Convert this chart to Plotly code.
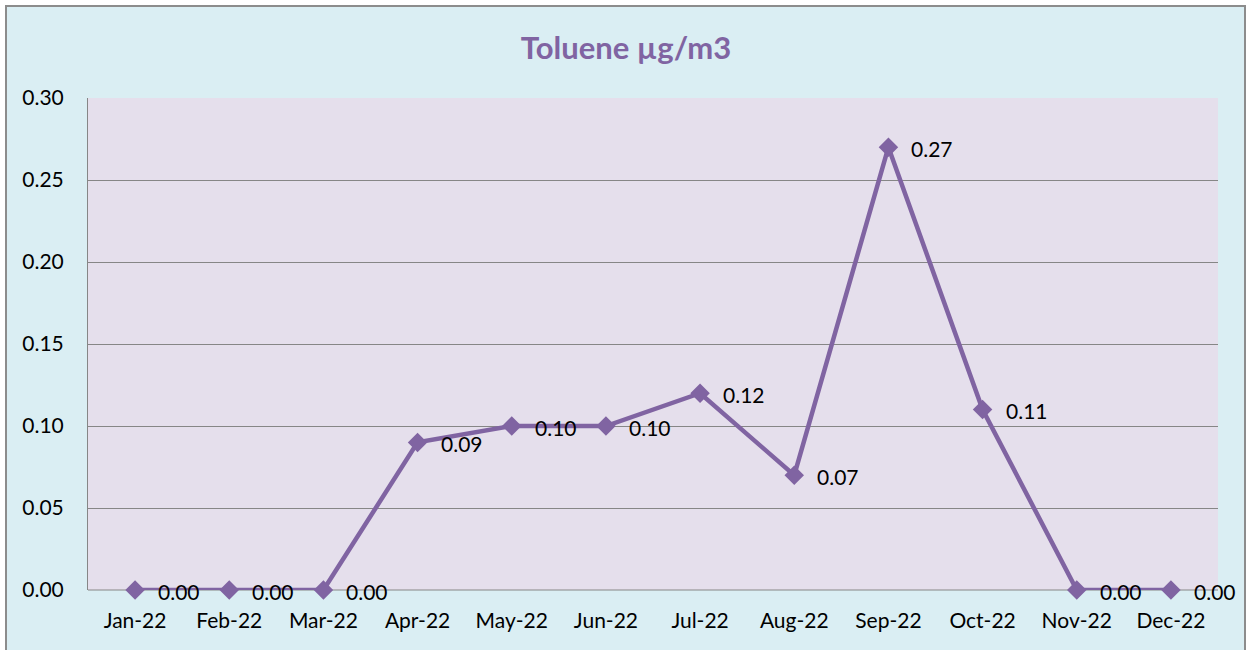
import plotly.graph_objects as go

months = ["Jan-22", "Feb-22", "Mar-22", "Apr-22", "May-22", "Jun-22",
          "Jul-22", "Aug-22", "Sep-22", "Oct-22", "Nov-22", "Dec-22"]
toluene = [0.00, 0.00, 0.00, 0.09, 0.10, 0.10, 0.12, 0.07, 0.27, 0.11, 0.00, 0.00]
y_ticks = [0.00, 0.05, 0.10, 0.15, 0.20, 0.25, 0.30]

LINE = "#8064A2"
FONT = "Lato"
W, H = 1248, 650
ML, MR, MT, MB = 88, 30, 98, 60
pw, ph = W - ML - MR, H - MT - MB

def px_x(p):
    return (p - ML) / pw

def px_y(p):
    return (H - MB - p) / ph

fig = go.Figure()
fig.add_trace(go.Scatter(
    x=list(range(len(months))), y=toluene, mode="lines+markers",
    line=dict(color=LINE, width=4.5),
    marker=dict(symbol="diamond", size=15, color=LINE),
    hoverinfo="skip", showlegend=False, cliponaxis=False,
))

for i, v in enumerate(toluene):
    fig.add_annotation(x=i, y=v, text=f"{v:.2f}", showarrow=False,
                       xanchor="left", yanchor="middle", xshift=21, yshift=-1,
                       font=dict(family=FONT, size=21, color="#000000"))

# outer chart area with border
fig.add_shape(type="rect", xref="paper", yref="paper",
              x0=px_x(6), x1=px_x(1245), y0=px_y(700), y1=px_y(6),
              fillcolor="#DAEEF3", line=dict(color="#8C8C8C", width=2),
              layer="below")
# plot area
fig.add_shape(type="rect", xref="paper", yref="paper",
              x0=0, x1=1, y0=0, y1=1,
              fillcolor="#E5DFEC", line=dict(width=0),
              layer="below")

fig.update_layout(
    width=W, height=H,
    margin=dict(l=ML, r=MR, t=MT, b=MB, pad=0),
    paper_bgcolor="#FFFFFF",
    plot_bgcolor="#E5DFEC",
    title=dict(text="<b>Toluene µg/m3</b>", x=626 / W, xref="container",
               xanchor="center", y=1 - 48 / H, yanchor="middle",
               font=dict(family=FONT, size=31, color=LINE)),
    xaxis=dict(range=[-0.5, len(months) - 0.5], tickmode="array",
               tickvals=list(range(len(months))), ticktext=months,
               showgrid=False, zeroline=False, showline=False, ticks="",
               tickfont=dict(family=FONT, size=21, color="#000000"),
               ticklabelstandoff=16, fixedrange=True),
    yaxis=dict(range=[0, 0.30], tickmode="array", tickvals=y_ticks,
               ticktext=[f"{t:.2f}" for t in y_ticks],
               showgrid=True, gridcolor="#868686", gridwidth=1,
               zeroline=False, showline=True, linecolor="#868686", linewidth=1,
               ticks="", tickfont=dict(family=FONT, size=21, color="#000000"),
               ticklabelstandoff=19, fixedrange=True, layer="below traces"),
)
fig.add_shape(type="line", xref="paper", yref="paper", x0=0, x1=1, y0=0, y1=0,
              line=dict(color="#868686", width=1), layer="below")

fig.write_html("out.html", config={"displayModeBar": False},
               post_script="document.body.style.margin='0';")
